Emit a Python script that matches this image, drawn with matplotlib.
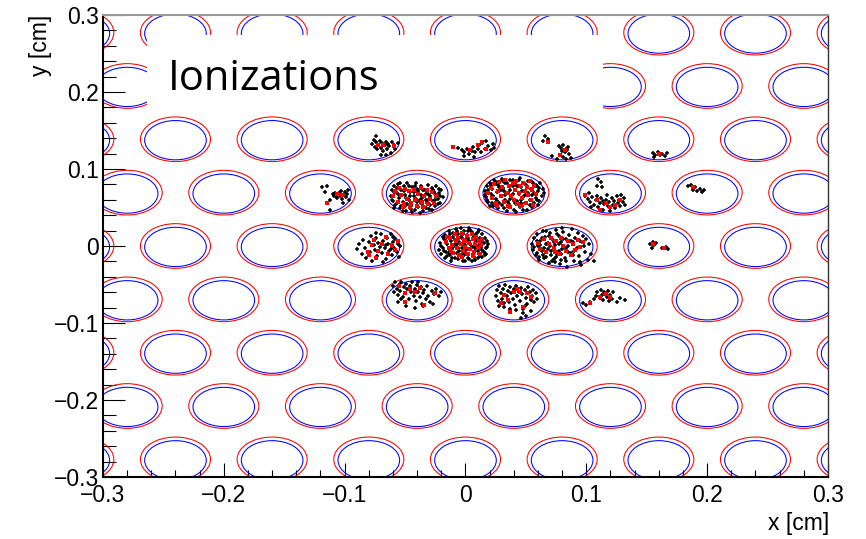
import matplotlib
matplotlib.use("Agg")
import matplotlib.pyplot as plt
from matplotlib.patches import Circle, Rectangle
from matplotlib.ticker import FixedLocator
import numpy as np

# ── Hole lattice (cm) ─────────────────────────────────────────────────────────
ROW_Y  = [-0.2771, -0.2078, -0.1386, -0.0693, 0.0, 0.0693, 0.1386, 0.2078, 0.2771]
EVEN_X = [-0.32, -0.24, -0.16, -0.08, 0.0, 0.08, 0.16, 0.24, 0.32]
ODD_X  = [-0.28, -0.20, -0.12, -0.04, 0.04, 0.12, 0.20, 0.28]
R_OUTER, R_INNER, INNER_DY = 0.029, 0.0255, -0.0012

TICKS       = [-0.3, -0.2, -0.1, 0.0, 0.1, 0.2, 0.3]
TICK_LABELS = ["\u22120.3", "\u22120.2", "\u22120.1", "0", "0.1", "0.2", "0.3"]
MINOR_TICKS = [-0.28, -0.26, -0.24, -0.22, -0.18, -0.16, -0.14, -0.12, -0.08, -0.06,
               -0.04, -0.02, 0.02, 0.04, 0.06, 0.08, 0.12, 0.14, 0.16, 0.18, 0.22,
               0.24, 0.26, 0.28]

# ── Ionization points: offsets from hole centre in units of 1e-3 cm ─────────
BLK_00 = [(-21,4),(-19,-3),(-18,9),(-17,14),(-16,-8),(-15,2),(-14,19),(-13,-12),(-12,6),
          (-11,-4),(-10,12),(-9,-16),(-8,22),(-8,0),(-7,-9),(-6,16),(-5,5),(-4,-13),(-3,10),
          (-3,-3),(-2,-19),(-1,20),(0,1),(0,-8),(1,14),(2,-15),(3,6),(3,24),(4,-4),(5,18),
          (6,-11),(6,10),(7,0),(8,-18),(9,15),(9,5),(10,-7),(11,21),(12,-13),(12,10),(13,-1),
          (14,16),(15,-8),(15,4),(16,11),(17,-3),(18,7),(-20,-10),(-17,-15),(-12,-19),
          (-6,-17),(0,-20),(5,-20),(10,-16),(14,-14),(-15,-13),(-10,17),(-4,24),(1,9),
          (-1,-12),(4,2),(-9,8),(8,-3),(11,1),(-13,-7),(-7,3),(2,19),(7,13),(-2,15),
          (17,-10),(-19,12),(-22,-5),(19,2),
          (-20,0),(-18,-6),(-16,7),(-14,-9),(-13,15),(-11,-15),(-9,2),(-7,19),(-5,-6),
          (-4,12),(-2,-10),(-1,3),(1,-4),(2,11),(3,-17),(5,-1),(7,-14),(8,8),(10,18),
          (11,-10),(13,5),(14,-5),(16,-12),(18,-1),(-10,-1),(4,21),(-6,-2)]
RED_00 = [(-16,5),(-14,-3),(-13,10),(-11,1),(-10,-9),(-9,15),(-8,6),(-7,-2),(-6,11),
          (-5,-12),(-4,3),(-3,17),(-2,-6),(-1,8),(0,-1),(1,13),(2,-10),(3,4),(4,-4),(5,16),
          (6,9),(7,-8),(8,2),(9,12),(10,-3),(11,6),(12,-11),(13,1),(14,9),(-12,-6),
          (-3,-14),(6,-13),(-15,12),(0,6)]

BLK_P1 = [(-24,2),(-23,-6),(-22,8),(-21,-12),(-20,13),(-19,-2),(-18,5),(-17,-17),(-16,16),
          (-15,-8),(-14,1),(-13,10),(-12,-14),(-11,-4),(-10,18),(-9,6),(-8,-20),(-7,-9),
          (-6,12),(-5,0),(-4,-15),(-3,17),(-2,-5),(-1,8),(0,-22),(1,3),(2,14),(3,-11),(4,-2),
          (5,19),(6,7),(7,-17),(8,-6),(9,11),(10,1),(11,-23),(12,15),(13,-10),(14,5),(15,-3),
          (16,12),(17,-14),(18,-7),(19,8),(20,2),(21,-11),(22,13),(23,-4),(24,5),(25,-1),
          (-18,-13),(-13,-20),(-6,-24),(2,-25),(8,-22),(15,-19),(20,-16),(-24,-3),(-20,-18),
          (-9,15),(4,16),(12,-1),(-3,4),(6,-9),(-14,11),(18,10),(-7,-3),(9,-13),(0,10),(-11,3),
          (-22,-9),(-21,4),(-19,10),(-17,-4),(-15,14),(-14,-11),(-12,7),(-10,-16),(-8,2),
          (-7,13),(-5,-12),(-3,-8),(-1,16),(1,-14),(3,8),(5,-19),(7,2),(9,-3),(11,9),
          (13,-16),(15,14),(17,-1),(19,-9),(21,6),(-1,-2),(6,-13)]
RED_P1 = [(-21,0),(-19,6),(-18,-7),(-16,11),(-15,-13),(-13,2),(-12,14),(-11,-5),(-10,7),
          (-8,-12),(-7,16),(-6,0),(-5,-17),(-4,9),(-2,-4),(-1,13),(0,-10),(1,4),(2,15),
          (3,-15),(4,-1),(5,8),(7,-7),(8,12),(9,2),(10,-13),(11,7),(12,-3),(13,15),(14,-9),
          (15,4),(16,-16),(17,9),(18,-2),(-3,-19),(6,-18),(-14,-17)]

BLK_M1 = [(-22,-4),(-21,3),(-20,-11),(-19,8),(-18,-16),(-17,-1),(-16,11),(-15,-7),(-14,-20),
          (-13,4),(-12,-12),(-11,9),(-10,-3),(-9,-24),(-8,12),(-7,-9),(-6,1),(-5,-17),(-4,7),
          (-3,-5),(-2,-22),(-1,13),(0,-12),(1,2),(2,-26),(3,9),(4,-7),(5,-18),(6,4),(7,-2),
          (8,-14),(9,10),(10,-21),(11,-5),(12,6),(13,-11),(14,1),(15,-17),(16,8),(17,-8),
          (18,-1),(19,-13),(20,3),(21,-6),(-19,-20),(-12,-24),(-4,-25),(5,-24),(12,-22),
          (-17,6),(-8,-15),(0,5),(9,-9),(15,-2),(-14,12),(3,-3),(-10,-18),(7,-20),(-2,9),(18,5),
          (-21,-9),(-19,1),(-17,-13),(-15,-3),(-13,-17),(-11,2),(-9,-7),(-7,8),(-5,-21),
          (-3,1),(-1,-8),(1,-19),(3,-14),(5,3),(7,-10),(9,-2),(11,-16),(13,3),(15,-9),
          (17,-15),(19,-5),(-6,-5),(2,-10)]
RED_M1 = [(-20,-5),(-18,2),(-16,-12),(-15,6),(-13,-3),(-11,-15),(-10,5),(-8,-8),(-7,2),
          (-5,-13),(-3,4),(-2,-9),(0,-17),(1,-2),(3,6),(4,-12),(6,-5),(8,3),(9,-15),(11,-8),
          (12,1),(14,-13),(16,-4),(-6,-19),(5,-19),(-12,-19)]

BLK_R0 = [(-25,3),(-24,-5),(-23,10),(-22,-12),(-21,15),(-20,0),(-19,-18),(-18,7),(-17,-7),
          (-16,19),(-15,-2),(-14,12),(-13,-14),(-12,4),(-11,-22),(-10,17),(-9,-6),(-8,9),
          (-7,-17),(-6,1),(-5,21),(-4,-10),(-3,13),(-2,-24),(-1,5),(0,-4),(1,18),(2,-15),
          (3,9),(4,-27),(5,0),(6,14),(7,-9),(8,22),(9,5),(10,-19),(11,11),(12,-3),(13,17),
          (14,-13),(15,6),(16,-25),(17,13),(18,0),(19,-8),(20,9),(21,-18),(22,3),(24,-10),
          (26,-20),(-21,-9),(-16,-12),(-10,0),(-3,-6),(3,-20),(9,-12),(-13,20),(0,23),
          (-6,-21),(15,-21),
          (-23,-1),(-21,6),(-19,-14),(-17,11),(-15,-16),(-13,2),(-11,13),(-9,-12),(-7,5),
          (-5,-14),(-3,3),(-1,-11),(1,9),(3,-2),(5,-8),(7,6),(-18,1),(-12,-4),(-4,16),
          (10,-6),(-8,-20),(-1,-18)]
RED_R0 = [(-20,4),(-18,-4),(-15,9),(-13,-8),(-11,2),(-9,11),(-7,-3),(-5,6),(-3,-11),(-1,10),
          (1,0),(3,-6),(5,7),(7,-12),(9,3),(11,-5),(13,8),(15,-1),(17,5),(-6,-8)]

BLK_D1 = [(-15,5),(-14,12),(-13,-2),(-12,17),(-11,8),(-10,0),(-9,14),(-8,-5),(-7,19),(-6,5),
          (-5,11),(-4,-3),(-3,16),(-2,8),(-1,1),(0,13),(1,-7),(2,18),(3,4),(4,10),(5,-2),
          (6,15),(7,7),(8,-12),(9,12),(10,2),(11,-6),(12,16),(13,9),(14,-1),(15,5),(16,12),
          (17,-4),(18,8),(19,1),(8,-18),(6,-24),(10,-21),(-8,-10),(2,-14),(-12,-8),(14,-15),
          (-3,-12),(9,-9)]
RED_D1 = [(0,10),(5,10),(11,8),(-5,-1),(-11,-5),(8,-10),(-3,-16),(3,14),(-8,6),(14,3)]

BLK_D2 = [(-20,18),(-19,10),(-18,22),(-17,14),(-16,6),(-15,19),(-14,11),(-13,23),(-12,3),
          (-11,16),(-10,8),(-9,20),(-8,13),(-7,1),(-6,17),(-5,9),(-4,22),(-3,5),(-2,14),
          (-1,-2),(0,19),(1,10),(2,3),(3,16),(4,-6),(5,8),(6,12),(7,0),(8,17),(9,5),(11,-3),
          (12,11),(14,7),(16,13),(18,4),(20,9),(-16,-4),(-9,-8),(-2,-11),(5,-9),(13,-6),
          (-13,0),(1,23)]
RED_D2 = [(-10,8),(-2,10),(2,15),(15,8),(6,-7),(-10,-3),(-15,17),(-6,13)]

BLK_L0 = [(-10,-4),(-8,3),(-6,-10),(-5,8),(-3,-2),(-2,-15),(0,5),(1,-8),(2,13),(3,-19),(4,1),
          (5,-5),(6,10),(7,-13),(8,4),(9,-1),(10,15),(11,-9),(12,7),(13,-3),(14,-17),(15,11),
          (16,2),(17,-7),(18,16),(19,-12),(20,5),(21,-2),(22,9),(23,-8),(24,3),(25,-14),
          (26,0),(12,-21),(6,17),(18,-4),(14,1),(20,12)]
RED_L0 = [(0,-12),(4,8),(8,-6),(11,3),(14,12),(16,-11),(19,1),(22,-5),(6,-16),(24,7),(-1,-8),
          (3,1)]

BLK_U3 = [(-10,18),(-8,14),(-11,9),(-7,7),(-21,-4),(-19,-8),(-17,-12),(-15,-6),(-14,-16),
          (-12,-10),(-11,-4),(-10,-19),(-9,-13),(-8,-7),(-6,-22),(-5,-15),(-4,-9),(-3,-3),
          (-2,-18),(-1,-12),(0,-24),(1,-7),(2,-16),(3,-11),(4,-20),(5,-5),(6,-14),(7,-9),
          (8,-18),(9,-3),(10,-12),(11,-7),(12,-16),(-16,-19),(-18,-1),(-6,-11)]
RED_U3 = [(-21,-3),(-11,-10),(-4,-13),(4,-16),(8,-10),(-9,-22),(0,-19)]

BLK_U4 = [(1,7),(5,8),(4,1),(8,-9),(8,-22),(10,-2),(11,-5),(12,0),(13,-4),(14,-7),(15,-1),
          (16,-5),(17,2),(18,-8),(19,-3),(20,1),(21,-6),(22,-2),(23,4),(24,-10),(19,-14)]
RED_U4 = [(5,-14),(18,-3),(14,-2)]

BLK_T1 = [(3,-6),(4,-1),(5,-10),(6,-4),(7,-13),(8,-7),(9,-2),(10,-11),(11,-5),(12,-15),
          (13,-8),(14,-3),(15,-12),(16,-6),(17,-9),(18,-18),(19,-4),(21,-7),(24,-5),(10,-21),
          (6,4),(14,-20),(22,-12)]
RED_T1 = [(8,-8),(12,-8),(21,-9)]

BLK_T2 = [(-10,-10),(-6,-11),(-3,-14),(-1,-17),(1,-12),(3,-19),(5,-15),(6,-10),(8,-17),
          (10,-13),(11,-8),(13,-16),(14,-5),(16,-12),(17,-2),(19,-9),(21,-14),(23,-6),
          (24,-11),(7,-23),(-1,-22)]
RED_T2 = [(-10,-10),(4,-14),(10,-8),(14,-4),(17,-12)]

BLK_T3 = [(-14,4),(-12,0),(-16,-2),(-3,-9),(-1,-11),(1,-8),(3,-12),(5,-10),(0,-15),(2,-17),
          (4,-14),(6,-19),(-2,-21),(1,-23),(3,-26),(-4,-25),(7,-24),(-8,-22)]
RED_T3 = [(-12,-4),(2,-14),(-2,-21)]

BLK_T4 = [(-5,-18),(-3,-20),(-1,-17),(1,-21),(3,-19),(5,-22),(7,-18),(-4,-23)]
RED_T4 = [(0,-19)]

BLK_U5 = [(-16,8),(-13,10),(-12,4),(-10,7),(-8,2),(-6,5),(-4,1),(-3,4)]
RED_U5 = [(-12,7)]

BLK_R1 = [(-7,3),(-5,5),(-4,1),(-2,4),(3,-2),(5,-3),(6,-1),(8,-4),(-6,-2)]
RED_R1 = [(-5,3),(4,-2)]

BLK_D3 = [(-23,-5),(-20,-7),(-17,-3),(-14,0),(-12,5),(-11,10),(-9,2),(-8,12),(-7,6),(-6,-1),
          (-5,9),(-3,3),(-2,11),(-1,-2),(0,6),(1,1),(2,9),(5,-4),(8,2),(12,-1)]
RED_D3 = [(-9,3),(0,3),(-17,-5),(-4,7)]

CLUSTERS = [
    (0.00,  0.0,     BLK_00, RED_00),
    (0.04,  0.0693,  BLK_P1, RED_P1),
    (-0.04, 0.0693,  BLK_M1, RED_M1),
    (0.08,  0.0,     BLK_R0, RED_R0),
    (0.04,  -0.0693, BLK_D1, RED_D1),
    (-0.04, -0.0693, BLK_D2, RED_D2),
    (-0.08, 0.0,     BLK_L0, RED_L0),
    (0.12,  0.0693,  BLK_U3, RED_U3),
    (-0.12, 0.0693,  BLK_U4, RED_U4),
    (-0.08, 0.1386,  BLK_T1, RED_T1),
    (0.00,  0.1386,  BLK_T2, RED_T2),
    (0.08,  0.1386,  BLK_T3, RED_T3),
    (0.16,  0.1386,  BLK_T4, RED_T4),
    (0.20,  0.0693,  BLK_U5, RED_U5),
    (0.16,  0.0,     BLK_R1, RED_R1),
    (0.12,  -0.0693, BLK_D3, RED_D3),
]

LABEL_FONT = "Liberation Sans"


def _points(hx, hy, offsets):
    arr = np.array(offsets, dtype=float) * 1e-3
    return hx + arr[:, 0], hy + arr[:, 1]


def _draw_holes(ax):
    for i, y in enumerate(ROW_Y):
        xs = EVEN_X if i % 2 == 0 else ODD_X
        for x in xs:
            ax.add_patch(Circle((x, y), R_OUTER, fill=False, ec="#ff0000", lw=0.75, zorder=2))
            ax.add_patch(Circle((x, y + INNER_DY), R_INNER, fill=False, ec="#0000ff", lw=0.75, zorder=2))


def _draw_ionizations(ax):
    for hx, hy, blk, red in CLUSTERS:
        bx, by = _points(hx, hy, blk)
        ax.plot(bx, by, ls="none", marker="+", ms=3.2, mew=1.1, color="black", zorder=4)
    for hx, hy, blk, red in CLUSTERS:
        rx, ry = _points(hx, hy, red)
        ax.plot(rx, ry, ls="none", marker="s", ms=2.8, mew=0, color="#ff0000", zorder=5)


fig = plt.figure(figsize=(8.66, 5.39), dpi=100)
fig.patch.set_facecolor("white")
ax = fig.add_axes([0.1189, 0.115, 0.8372, 0.8572])
ax.set_xlim(-0.3, 0.3)
ax.set_ylim(-0.3, 0.3)

_draw_holes(ax)
_draw_ionizations(ax)

# label pave covering the top rows
ax.add_patch(Rectangle((-0.2637, 0.174), 0.3775, 0.100, fc="white", ec="none", zorder=6))
ax.text(-0.2463, 0.2026, "Ionizations", fontsize=30, family="Open Sans",
        va="baseline", ha="left", zorder=7)

# ROOT-like frame and ticks
for side in ("left", "bottom"):
    ax.spines[side].set_linewidth(1.5)
    ax.spines[side].set_color("black")
ax.spines["top"].set_color("#999999")
ax.spines["right"].set_color("#333333")
ax.spines["top"].set_linewidth(1.5)
ax.spines["right"].set_linewidth(1.0)

ax.xaxis.set_major_locator(FixedLocator(TICKS))
ax.yaxis.set_major_locator(FixedLocator(TICKS))
ax.xaxis.set_minor_locator(FixedLocator(MINOR_TICKS))
ax.yaxis.set_minor_locator(FixedLocator(MINOR_TICKS))
ax.set_xticklabels(TICK_LABELS, family=LABEL_FONT, fontsize=16.5)
ax.set_yticklabels(TICK_LABELS, family=LABEL_FONT, fontsize=16.5)
ax.tick_params(axis="x", which="major", direction="in", length=10, width=0.8, pad=5)
ax.tick_params(axis="x", which="minor", direction="in", length=5, width=0.8)
ax.tick_params(axis="y", which="major", direction="in", length=16, width=0.8, pad=3)
ax.tick_params(axis="y", which="minor", direction="in", length=9, width=0.8)

fig.text(0.957, 0.0167, "x [cm]", family=LABEL_FONT, fontsize=16.5, ha="right", va="baseline")
fig.text(0.047, 0.972, "y [cm]", family=LABEL_FONT, fontsize=16.5, rotation=90,
         ha="center", va="top")

fig.savefig("out.png", dpi=100, facecolor="white")
